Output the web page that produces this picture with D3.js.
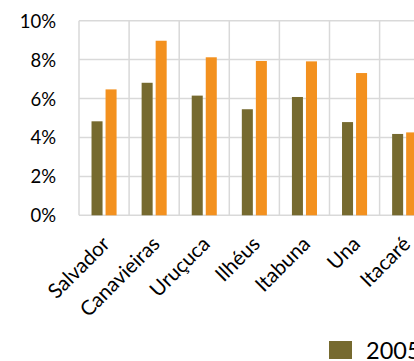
<!DOCTYPE html>
<html><head><meta charset="utf-8">
<script src="https://cdn.jsdelivr.net/npm/d3@7"></script>
<style>html,body{margin:0;padding:0;background:#fff;overflow:hidden}</style>
</head><body>
<svg id="chart" width="414" height="361"></svg>
<script>
const categories = ["Salvador","Canavieiras","Uruçuca","Ilhéus","Itabuna","Una","Itacaré"];
const series = ["2005","2010"];
const values2005 = [4.83, 6.81, 6.15, 5.45, 6.08, 4.79, 4.18];
const values2010 = [6.47, 8.97, 8.12, 7.93, 7.91, 7.31, 4.26];
const yTicks = [0, 2, 4, 6, 8, 10];
const colors = ["#766a2f", "#f3911f"];

const svg = d3.select("#chart");
const font = "Lato, 'Open Sans', sans-serif";
const plotLeft = 79, plotTop = 20.7, plotBottom = 215.3, step = 50.1;

const x0 = d3.scaleBand().domain(categories).range([plotLeft, plotLeft + step * categories.length]).paddingInner(0).paddingOuter(0);
const x1 = d3.scaleBand().domain(series).range([x0.bandwidth() * 0.25, x0.bandwidth() * 0.75]).paddingInner(3 / 14);
const y = d3.scaleLinear().domain([0, 10]).range([plotBottom, plotTop]);

// horizontal grid
svg.append("g").selectAll("line").data(yTicks).join("line")
  .attr("x1", plotLeft).attr("x2", 414)
  .attr("y1", d => y(d)).attr("y2", d => y(d))
  .attr("stroke", "#d9d9d9").attr("stroke-width", 1.5);
// vertical grid
svg.append("g").selectAll("line").data(categories).join("line")
  .attr("x1", d => x0(d)).attr("x2", d => x0(d))
  .attr("y1", plotTop).attr("y2", plotBottom)
  .attr("stroke", "#d9d9d9").attr("stroke-width", 1.5);

// y axis labels
const yAxis = d3.axisLeft(y).tickValues(yTicks).tickFormat(d => d + "%").tickSize(0).tickPadding(0);
const gy = svg.append("g").attr("transform", `translate(56,0)`).call(yAxis);
gy.select(".domain").remove();
gy.selectAll("text").attr("font-family", font).attr("font-size", 18.5).attr("fill", "#000").attr("dy", "0.35em");

// bars
const data = categories.map((c, i) => ({cat: c, vals: [values2005[i], values2010[i]]}));
const groups = svg.append("g").selectAll("g").data(data).join("g")
  .attr("transform", d => `translate(${x0(d.cat)},0)`);
groups.selectAll("rect").data(d => d.vals.map((v, j) => ({s: series[j], v, j}))).join("rect")
  .attr("x", d => x1(d.s)).attr("width", x1.bandwidth())
  .attr("y", d => y(d.v)).attr("height", d => y(0) - y(d.v))
  .attr("fill", d => colors[d.j]);

// x labels
const xAxis = d3.axisBottom(x0).tickSize(0).tickPadding(0);
const gx = svg.append("g").attr("transform", `translate(0,${plotBottom})`).call(xAxis);
gx.select(".domain").remove();
gx.selectAll("text")
  .attr("font-family", font).attr("font-size", 20.5).attr("fill", "#000")
  .attr("text-anchor", "end").attr("dy", "0")
  .attr("transform", "translate(7,30) rotate(-45)");

// legend
const lg = svg.append("g").attr("transform", "translate(329,341)");
lg.append("rect").attr("width", 23).attr("height", 18).attr("fill", colors[0]);
lg.append("text").attr("x", 37).attr("y", 18).text(series[0])
  .attr("font-family", font).attr("font-size", 23.5).attr("fill", "#000");
</script>
</body></html>
